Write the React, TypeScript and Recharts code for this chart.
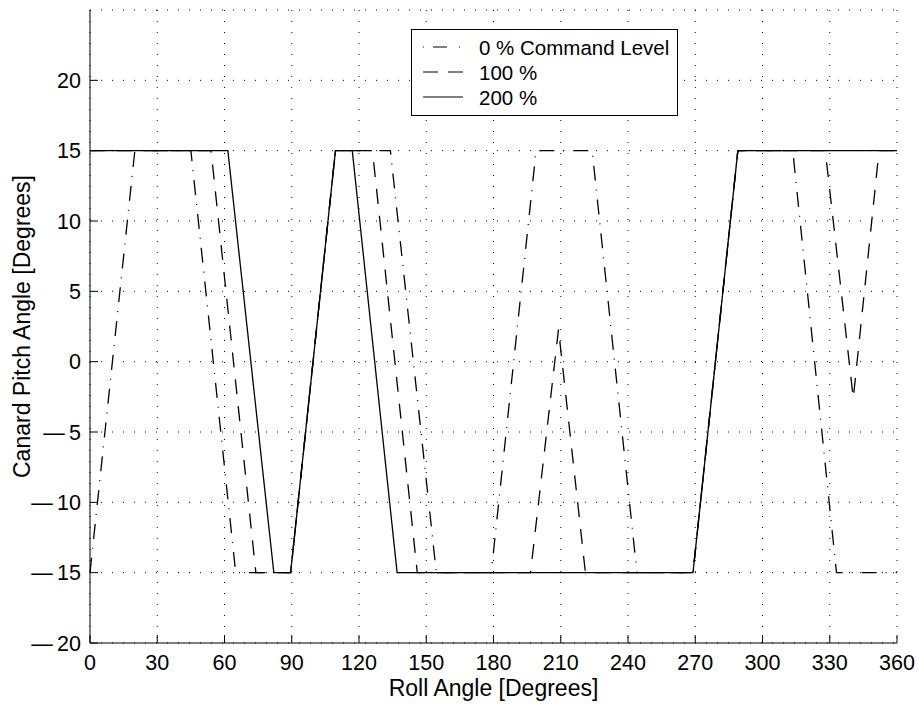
import { LineChart, Line, XAxis, YAxis, CartesianGrid, Legend } from 'recharts';

const rollTicks = [0, 30, 60, 90, 120, 150, 180, 210, 240, 270, 300, 330, 360];
const pitchTicks = [-20, -15, -10, -5, 0, 5, 10, 15, 20];

// 0 % command level (dash-dot)
const roll0 = [0, 20, 45, 65, 89.5, 109.5, 134, 154.5, 179, 199, 224, 244, 269, 289, 313.5, 333, 360];
const pitch0 = [-15, 15, 15, -15, -15, 15, 15, -15, -15, 15, 15, -15, -15, 15, 15, -15, -15];

// 100 % (dashed)
const roll100 = [0, 54, 74, 89.5, 109.5, 126, 146, 196.5, 209, 221, 269, 289, 328, 340.5, 352, 360];
const pitch100 = [15, 15, -15, -15, 15, 15, -15, -15, 2.3, -15, -15, 15, 15, -2.6, 15, 15];

// 200 % (solid)
const roll200 = [0, 61.5, 82, 89.5, 109.5, 117, 137, 269, 289, 360];
const pitch200 = [15, 15, -15, -15, 15, 15, -15, -15, 15, 15];

const seriesNames = ['0 % Command Level', '100 %', '200 %'];
const dashes = ['15 9 1 9', '15 12', undefined];
const legendDashes = ['1 9 14 12', '15 10', undefined];

const FONT = 'Liberation Sans, Arial, Helvetica, sans-serif';

const toPoints = (xs: number[], ys: number[]) => xs.map((roll, i) => ({ roll, pitch: ys[i] }));

const series = [toPoints(roll0, pitch0), toPoints(roll100, pitch100), toPoints(roll200, pitch200)];

const longMinus = (v: number) => (v < 0 ? '\u2014\u2009' + Math.abs(v) : String(v));

function YLabel({ viewBox }: any) {
  const x = viewBox.x + 30;
  const y = viewBox.y + viewBox.height / 2;
  return (
    <text x={x} y={y} transform={`rotate(-90 ${x} ${y})`} textAnchor="middle" fontSize={23} fontFamily={FONT} fill="#000">
      Canard Pitch Angle [Degrees]
    </text>
  );
}

function XLabel({ viewBox }: any) {
  return (
    <text x={viewBox.x + viewBox.width / 2} y={viewBox.y + 53} textAnchor="middle" fontSize={23} fontFamily={FONT} fill="#000">
      Roll Angle [Degrees]
    </text>
  );
}

function LegendBox() {
  return (
    <svg width={267} height={88} style={{ display: 'block' }}>
      <rect x={0.5} y={0.5} width={266} height={86} fill="#fff" stroke="#000" />
      {seriesNames.map((name, i) => {
        const cy = 18 + i * 25;
        return (
          <g key={name}>
            <line x1={12} x2={52} y1={cy} y2={cy} stroke="#000" strokeWidth={1.2} strokeDasharray={legendDashes[i]} />
            <text x={68} y={cy + 7.5} fontSize={20.5} fontFamily={FONT} fill="#000">
              {name}
            </text>
          </g>
        );
      })}
    </svg>
  );
}

export default function App() {
  return (
    <div style={{ position: 'absolute', left: 0, top: 0, background: '#fff' }}>
      <LineChart width={918} height={709} margin={{ top: 10, right: 21, bottom: 0, left: 0 }}>
        <CartesianGrid stroke="#000" strokeDasharray="1 10" />
        <XAxis
          dataKey="roll"
          type="number"
          domain={[0, 360]}
          ticks={rollTicks}
          interval={0}
          height={66}
          tickSize={-8}
          tickMargin={20}
          stroke="#000"
          tick={{ fill: '#000', fontSize: 21.5, fontFamily: FONT }}
          label={{ content: XLabel }}
        />
        <XAxis xAxisId="top" orientation="top" type="number" domain={[0, 360]} ticks={rollTicks} height={0} tickSize={-8} tick={false} stroke="#000" />
        <YAxis
          type="number"
          domain={[-20, 25]}
          ticks={pitchTicks}
          interval={0}
          width={90}
          tickSize={-8}
          tickMargin={17}
          stroke="#000"
          tickFormatter={longMinus}
          tick={{ fill: '#000', fontSize: 21.5, fontFamily: FONT }}
          label={{ content: YLabel }}
        />
        <YAxis yAxisId="right" orientation="right" type="number" domain={[-20, 25]} ticks={pitchTicks} width={0} tickSize={-8} tick={false} stroke="#000" />
        {series.map((data, i) => (
          <Line
            key={seriesNames[i]}
            data={data}
            dataKey="pitch"
            name={seriesNames[i]}
            type="linear"
            stroke="#000"
            strokeWidth={1.3}
            strokeDasharray={dashes[i]}
            dot={false}
            activeDot={false}
            isAnimationActive={false}
          />
        ))}
        <Legend verticalAlign="middle" layout="horizontal" content={() => <LegendBox />} wrapperStyle={{ left: 411, top: 29, width: 267, height: 88 }} />
      </LineChart>
    </div>
  );
}
